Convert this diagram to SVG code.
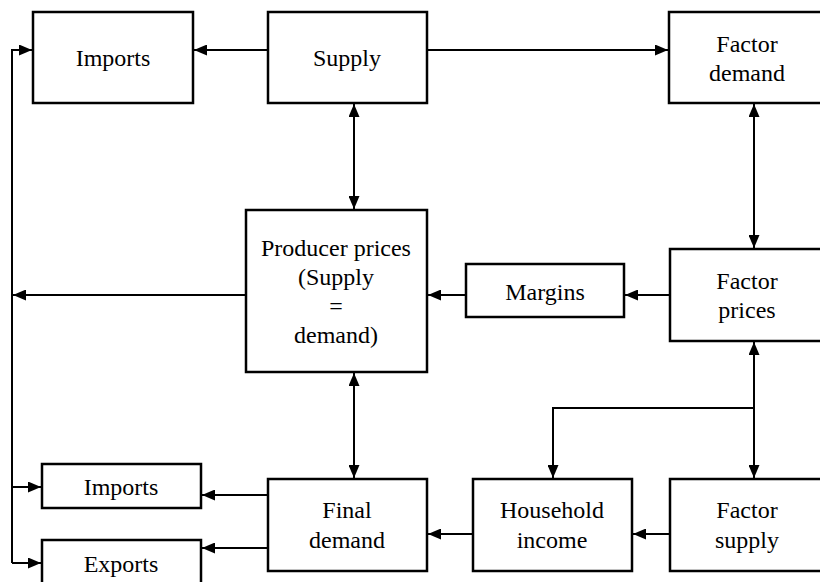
<svg xmlns="http://www.w3.org/2000/svg" width="820" height="582" viewBox="0 0 820 582">
<style>
.box{fill:#fff;stroke:#000;stroke-width:2.5}
.c{fill:none;stroke:#000;stroke-width:2}
.t{font-size:24px;fill:#000;text-anchor:middle}
</style>
<defs>
<marker id="ah" viewBox="0 0 13 11" refX="13" refY="5.5" markerWidth="13" markerHeight="11" markerUnits="userSpaceOnUse" orient="auto-start-reverse">
<path d="M0,0 L13,5.5 L0,11 z" fill="#000"/>
</marker>
</defs>
<rect width="820" height="582" fill="#fff"/>
<g id="connectors">
<path class="c" d="M268,50 H194" marker-end="url(#ah)"/>
<path class="c" d="M427,50 H668" marker-end="url(#ah)"/>
<path class="c" d="M12,563 V50 H32" marker-end="url(#ah)"/>
<path class="c" d="M12,487 H41" marker-end="url(#ah)"/>
<path class="c" d="M12,563 H41" marker-end="url(#ah)"/>
<path class="c" d="M246,295 H13" marker-end="url(#ah)"/>
<path class="c" d="M354,104 V209" marker-start="url(#ah)" marker-end="url(#ah)"/>
<path class="c" d="M466,295 H428" marker-end="url(#ah)"/>
<path class="c" d="M670,295 H625" marker-end="url(#ah)"/>
<path class="c" d="M754,104 V248" marker-start="url(#ah)" marker-end="url(#ah)"/>
<path class="c" d="M754,342 V478" marker-start="url(#ah)" marker-end="url(#ah)"/>
<path class="c" d="M754,408 H553 V478" marker-end="url(#ah)"/>
<path class="c" d="M354,373 V478" marker-start="url(#ah)" marker-end="url(#ah)"/>
<path class="c" d="M268,495 H202" marker-end="url(#ah)"/>
<path class="c" d="M268,548 H202" marker-end="url(#ah)"/>
<path class="c" d="M670,534 H633" marker-end="url(#ah)"/>
<path class="c" d="M473,534 H428" marker-end="url(#ah)"/>
</g>
<g font-family="Liberation Serif, DejaVu Serif, Noto Serif, Times New Roman, Times, serif">
<g id="imports-top"><rect class="box" x="33" y="12" width="160" height="91"/><text class="t" x="113" y="66">Imports</text></g>
<g id="supply"><rect class="box" x="268" y="12" width="159" height="91"/><text class="t" x="347" y="66">Supply</text></g>
<g id="factor-demand"><rect class="box" x="669" y="12" width="156" height="91"/><text class="t" x="747" y="52">Factor</text><text class="t" x="747" y="81">demand</text></g>
<g id="producer-prices"><rect class="box" x="246" y="210" width="181" height="162"/><text class="t" x="336" y="256">Producer prices</text><text class="t" x="336" y="285">(Supply</text><text class="t" x="336" y="314">=</text><text class="t" x="336" y="343">demand)</text></g>
<g id="margins"><rect class="box" x="466" y="264" width="158" height="53"/><text class="t" x="545" y="300">Margins</text></g>
<g id="factor-prices"><rect class="box" x="670" y="249" width="155" height="92"/><text class="t" x="747" y="289">Factor</text><text class="t" x="747" y="318">prices</text></g>
<g id="imports-bottom"><rect class="box" x="42" y="464" width="159" height="44"/><text class="t" x="121" y="495">Imports</text></g>
<g id="exports"><rect class="box" x="42" y="540" width="159" height="50"/><text class="t" x="121" y="572">Exports</text></g>
<g id="final-demand"><rect class="box" x="268" y="479" width="159" height="92"/><text class="t" x="347" y="518">Final</text><text class="t" x="347" y="548">demand</text></g>
<g id="household-income"><rect class="box" x="473" y="479" width="159" height="92"/><text class="t" x="552" y="518">Household</text><text class="t" x="552" y="548">income</text></g>
<g id="factor-supply"><rect class="box" x="670" y="479" width="155" height="92"/><text class="t" x="747" y="518">Factor</text><text class="t" x="747" y="548">supply</text></g>
</g>
</svg>
